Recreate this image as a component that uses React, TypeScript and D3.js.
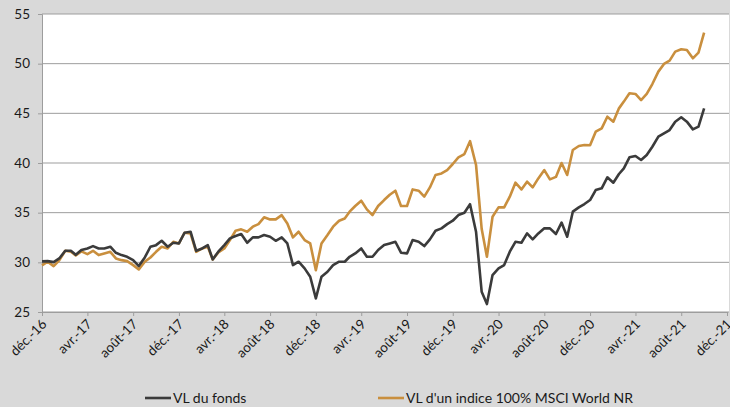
import React, { useEffect, useRef } from 'react';
import * as d3 from 'd3';

// VL, deux points par mois (le 1er et le 16) à partir du 1er déc. 2016
const fundValues = [
  30.1, 30.12, 30.02, 30.39, 31.16, 31.16, 30.76, 31.23, 31.4, 31.63, 31.4, 31.4, 31.57, 30.96, 30.73, 30.56,
  30.22, 29.62, 30.49, 31.57, 31.73, 32.17, 31.57, 31.97, 31.9, 32.98, 33.08, 31.16, 31.4, 31.73, 30.29, 31.07,
  31.74, 32.41, 32.65, 32.85, 31.97, 32.51, 32.51, 32.75, 32.58, 32.17, 32.51, 31.9, 29.72, 30.06, 29.39, 28.55,
  26.37, 28.55, 29.05, 29.72, 30.06, 30.06, 30.56, 30.9, 31.4, 30.56, 30.56, 31.24, 31.74, 31.9, 32.07, 30.97,
  30.9, 32.24, 32.07, 31.64, 32.31, 33.18, 33.42, 33.85, 34.19, 34.76, 34.99, 35.85, 33.08, 27.04, 25.8, 28.72,
  29.39, 29.72, 31.07, 32.07, 31.97, 32.91, 32.31, 32.91, 33.42, 33.42, 32.85, 34.0, 32.58, 35.1, 35.53, 35.87,
  36.27, 37.28, 37.45, 38.56, 38.02, 38.89, 39.46, 40.57, 40.7, 40.3, 40.8, 41.64, 42.65, 42.99, 43.32, 44.16,
  44.6, 44.16, 43.39, 43.66, 45.5,
];

const indexValues = [
  29.7, 30.06, 29.62, 30.2, 31.16, 31.06, 30.7, 31.1, 30.83, 31.16, 30.73, 30.9, 31.06, 30.39, 30.22, 30.12,
  29.72, 29.28, 30.06, 30.49, 31.06, 31.57, 31.4, 32.07, 31.9, 32.98, 32.9, 31.06, 31.4, 31.57, 30.29, 31.0,
  31.4, 32.24, 33.18, 33.32, 33.08, 33.59, 33.85, 34.53, 34.32, 34.32, 34.75, 33.92, 32.51, 33.08, 32.24, 31.9,
  29.2, 31.9, 32.75, 33.59, 34.19, 34.42, 35.1, 35.67, 36.2, 35.33, 34.76, 35.67, 36.27, 36.8, 37.21, 35.67,
  35.67, 37.34, 37.21, 36.61, 37.54, 38.79, 38.95, 39.29, 39.9, 40.57, 40.9, 42.2, 39.8, 33.38, 30.56, 34.59,
  35.53, 35.53, 36.61, 38.02, 37.34, 38.12, 37.54, 38.45, 39.29, 38.35, 38.6, 40.0, 38.79, 41.31, 41.71, 41.81,
  41.78, 43.15, 43.49, 44.66, 44.16, 45.5, 46.18, 47.02, 46.95, 46.34, 46.95, 47.95, 49.2, 49.97, 50.3, 51.21,
  51.45, 51.38, 50.54, 51.11, 53.12,
];

const tickLabels = [
  'déc.-16', 'avr.-17', 'août-17', 'déc.-17', 'avr.-18', 'août-18', 'déc.-18', 'avr.-19',
  'août-19', 'déc.-19', 'avr.-20', 'août-20', 'déc.-20', 'avr.-21', 'août-21', 'déc.-21',
];

const yTicks = [25, 30, 35, 40, 45, 50, 55];

const seriesNames = ['VL du fonds', "VL d'un indice 100% MSCI World NR"];
const seriesColors = ['#3b3b3b', '#c98f3e'];

const WIDTH = 730;
const HEIGHT = 407;
const FONT = 'Lato, "Open Sans", sans-serif';

const pointDate = (i: number) => new Date(2016, 11 + Math.floor(i / 2), i % 2 ? 16 : 1);
const tickDate = (k: number) => new Date(2016, 11 + 4 * k, 1);

const App = () => {
  const svgRef = useRef<SVGSVGElement>(null);

  useEffect(() => {
    const svg = d3.select(svgRef.current);
    svg.selectAll('*').remove();

    const left = 42;
    const right = 727;
    const top = 14;
    const bottom = 312;

    const x = d3.scaleTime().domain([tickDate(0), tickDate(tickLabels.length - 1)]).range([left, right]);
    const y = d3.scaleLinear().domain([25, 55]).range([bottom, top]);

    // background
    svg.append('rect').attr('width', WIDTH).attr('height', HEIGHT).attr('fill', '#d9d9d9');
    svg.append('rect').attr('x', left).attr('y', top).attr('width', 729 - left).attr('height', bottom - top).attr('fill', '#ffffff');

    // horizontal grid lines
    svg
      .append('g')
      .selectAll('line')
      .data(yTicks)
      .enter()
      .append('line')
      .attr('x1', left)
      .attr('x2', 729)
      .attr('y1', (d) => y(d))
      .attr('y2', (d) => y(d))
      .attr('stroke', '#9d9d9d')
      .attr('stroke-width', 1);

    // y axis
    const yAxis = svg
      .append('g')
      .attr('transform', `translate(${left},0)`)
      .call(d3.axisLeft(y).tickValues(yTicks).tickSize(4).tickPadding(8));
    yAxis.select('.domain').attr('stroke', '#9d9d9d');
    yAxis.selectAll('.tick line').attr('stroke', '#9d9d9d');
    yAxis
      .selectAll('.tick text')
      .attr('fill', '#1a1a1a')
      .style('font-family', FONT)
      .style('font-size', '13.5px');

    // x axis, labels tilted at 45°
    const tickDates = tickLabels.map((_, k) => tickDate(k));
    const xAxis = svg
      .append('g')
      .attr('transform', `translate(0,${bottom})`)
      .call(
        d3
          .axisBottom(x)
          .tickValues(tickDates)
          .tickSize(4)
          .tickFormat((_, i) => tickLabels[i])
      );
    xAxis.select('.domain').attr('stroke', '#9d9d9d');
    xAxis.selectAll('.tick line').attr('stroke', '#9d9d9d');
    xAxis
      .selectAll('.tick text')
      .attr('fill', '#1a1a1a')
      .style('font-family', FONT)
      .style('font-size', '13.5px')
      .attr('text-anchor', 'end')
      .attr('y', 0)
      .attr('dy', 0)
      .attr('transform', 'translate(5,13) rotate(-45)');

    // lines
    const line = d3
      .line<number>()
      .x((_, i) => x(pointDate(i)))
      .y((d) => y(d));

    [indexValues, fundValues].forEach((values, k) => {
      svg
        .append('path')
        .datum(values)
        .attr('fill', 'none')
        .attr('stroke', seriesColors[1 - k])
        .attr('stroke-width', 2.6)
        .attr('stroke-linejoin', 'round')
        .attr('d', line);
    });

    // legend
    const legendX = [145, 378];
    const legendY = 398;
    seriesNames.forEach((name, k) => {
      const g = svg.append('g').attr('transform', `translate(${legendX[k]},${legendY})`);
      g.append('line').attr('x1', 0).attr('x2', 26).attr('y1', 0).attr('y2', 0).attr('stroke', seriesColors[k]).attr('stroke-width', 2.6);
      g.append('text')
        .attr('x', 28)
        .attr('y', 0)
        .attr('dy', '0.35em')
        .attr('fill', '#1a1a1a')
        .style('font-family', FONT)
        .style('font-size', '14px')
        .text(name);
    });
  }, []);

  return (
    <svg
      ref={svgRef}
      width={WIDTH}
      height={HEIGHT}
      style={{ position: 'absolute', left: 0, top: 0, display: 'block' }}
    />
  );
};

export default App;
